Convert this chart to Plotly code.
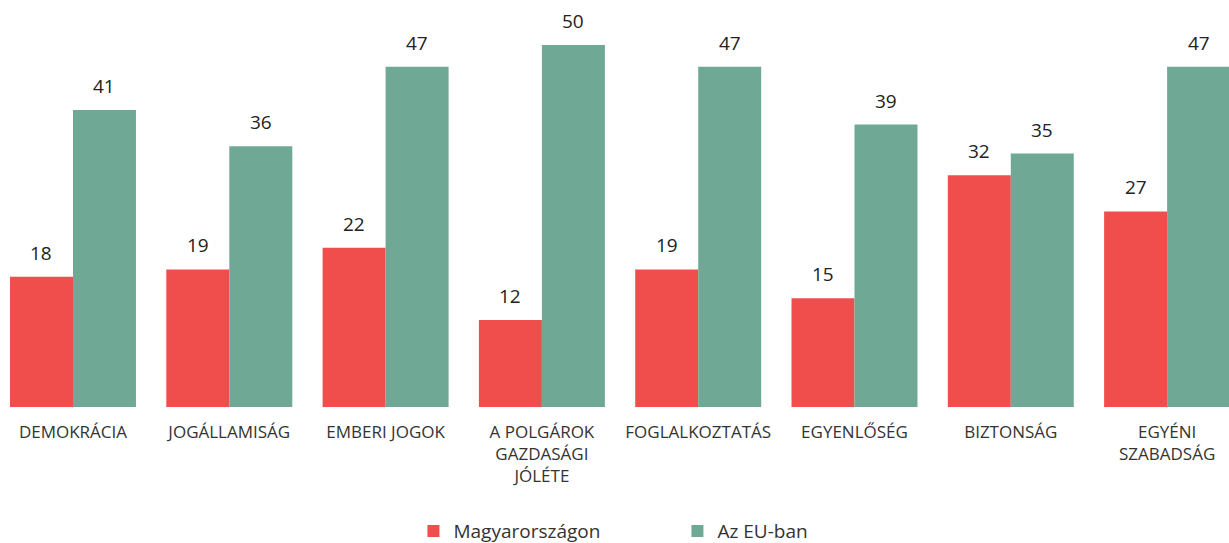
import plotly.graph_objects as go

categories = ["DEMOKRÁCIA", "JOGÁLLAMISÁG", "EMBERI JOGOK", "A POLGÁROK<br>GAZDASÁGI<br>JÓLÉTE",
              "FOGLALKOZTATÁS", "EGYENLŐSÉG", "BIZTONSÁG", "EGYÉNI<br>SZABADSÁG"]
hu_values = [18, 19, 22, 12, 19, 15, 32, 27]
eu_values = [41, 36, 47, 50, 47, 39, 35, 47]
series_names = ["Magyarországon", "Az EU-ban"]
colors = ["#F04E4C", "#6FA996"]

FONT = "Open Sans"

fig = go.Figure()
for name, vals, col in zip(series_names, [hu_values, eu_values], colors):
    fig.add_trace(go.Bar(x=categories, y=vals, name=name, marker=dict(color=col, line=dict(width=0))))

# value labels
for vals, shift in [(hu_values, -31.5), (eu_values, 31.5)]:
    for c, v in zip(categories, vals):
        fig.add_annotation(x=c, y=v, text=str(v), showarrow=False, xshift=shift, yshift=9,
                           yanchor="bottom", font=dict(family=FONT, size=19, color="#222222"))

fig.update_layout(
    width=1229, height=543,
    margin=dict(l=0, r=0, t=0, b=136, autoexpand=False),
    paper_bgcolor="white", plot_bgcolor="white",
    barmode="group", bargap=0.194, bargroupgap=0,
    font=dict(family=FONT, color="#333333"),
    showlegend=True,
    legend=dict(orientation="h", x=0.3364, xanchor="left", yref="container", y=0.022, yanchor="middle",
                font=dict(family=FONT, size=19, color="#333333"),
                entrywidth=219, entrywidthmode="pixels", itemwidth=30),
)
fig.update_xaxes(range=[-0.467, 7.396], showgrid=False, showline=False, zeroline=False, automargin=False,
                 ticks="", tickfont=dict(family=FONT, size=17, color="#333333"), ticklabelstandoff=13)
fig.update_yaxes(range=[0, 56.2], visible=False, showgrid=False, zeroline=False, automargin=False)

fig.write_html("out.html", config={"displayModeBar": False},
               post_script="document.body.style.margin='0';")
